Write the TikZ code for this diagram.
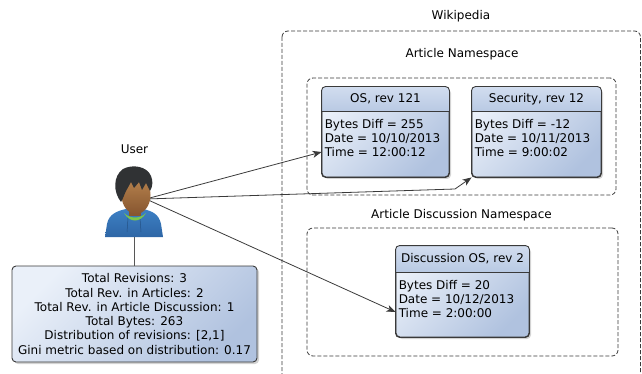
\documentclass[tikz,border=0pt]{standalone}
\usepackage{fontspec}
\setmainfont{DejaVu Sans}
\usetikzlibrary{arrows.meta,shadows,calc}
\definecolor{edge}{HTML}{3A3A3A}
\definecolor{bodyA}{HTML}{EAF0F9}
\definecolor{bodyB}{HTML}{B0C2DF}
\definecolor{hdrA}{HTML}{D2DDEF}
\definecolor{hdrB}{HTML}{B8C9E3}
\definecolor{hood}{HTML}{3D80C4}
\definecolor{hoodD}{HTML}{2E66A6}
\definecolor{skinA}{HTML}{B9854F}
\definecolor{skinB}{HTML}{875630}
\definecolor{hair}{HTML}{303234}
\definecolor{collar}{HTML}{7BC64A}
\tikzset{
  txt/.style={font=\fontsize{12}{14}\selectfont, inner sep=0pt},
  nsbox/.style={draw=edge, dashed, dash pattern=on 4pt off 2pt, line width=0.8pt, rounded corners=6pt},
  revbox/.style={draw=edge, line width=0.9pt, rounded corners=4pt, rectangle,
     top color=bodyA, bottom color=bodyB, shading angle=45,
     drop shadow={shadow xshift=2pt, shadow yshift=-2pt, opacity=0.35}},
  link/.style={draw=edge, line width=0.8pt, -{Stealth[length=9pt,width=7pt,inset=2.5pt]}},
}
\newcommand{\revhead}[3]{%
  \begin{scope}
    \clip[rounded corners=4pt] (#1.south west) rectangle (#1.north east);
    \shade[top color=hdrA, bottom color=hdrB] (#1.north west) rectangle ([yshift=-#2]#1.north east);
  \end{scope}
  \draw[edge, line width=0.8pt] ([yshift=-#2]#1.north west) -- ([yshift=-#2]#1.north east);
  \draw[edge, line width=0.9pt, rounded corners=4pt] (#1.south west) rectangle (#1.north east);
  \node[txt] (#1title) at ($(#1.north west)!0.5!(#1.north east)+(0,-#2/2)$) {#3};
}
\begin{document}
\begin{tikzpicture}[x=1pt,y=-1pt]
\useasboundingbox (0,0) rectangle (642,374);
% namespaces
\node[txt] (wikilabel) at (461,16) {Wikipedia};
\draw[nsbox] (282,31) rectangle (640.5,400);
\node[txt] (artlabel) at (462,54) {Article Namespace};
\node[nsbox, minimum width=309pt, minimum height=117pt, inner sep=0pt] (artns) at (461.5,136.5) {};
\node[txt] (disclabel) at (461.5,215) {Article Discussion Namespace};
\node[nsbox, minimum width=311pt, minimum height=128pt, inner sep=0pt] (discns) at (462.5,292) {};
% revision boxes
\node[revbox, minimum width=127pt, minimum height=90pt, inner sep=0pt] (os) at (385.5,132) {};
\revhead{os}{25pt}{OS, rev 121}
\node[txt, align=left, anchor=north west] (osbody) at ([xshift=3pt,yshift=-33pt]os.north west)
  {Bytes Diff = 255\\Date = 10/10/2013\\Time = 12:00:12};
\node[revbox, minimum width=129pt, minimum height=90pt, inner sep=0pt] (sec) at (536.5,132) {};
\revhead{sec}{25pt}{Security, rev 12}
\node[txt, align=left, anchor=north west] (secbody) at ([xshift=3pt,yshift=-33pt]sec.north west)
  {Bytes Diff = -12\\Date = 10/11/2013\\Time = 9:00:02};
\node[revbox, minimum width=133pt, minimum height=91pt, inner sep=0pt] (dis) at (462.5,291.5) {};
\revhead{dis}{27pt}{Discussion OS, rev 2}
\node[txt, align=left, anchor=north west] (disbody) at ([xshift=3pt,yshift=-35pt]dis.north west)
  {Bytes Diff = 20\\Date = 10/12/2013\\Time = 2:00:00};
% user
\node[txt] (userlabel) at (134.5,149) {User};
\node[minimum width=58pt, minimum height=70pt, inner sep=0pt] (user) at (134.5,202) {};
\coordinate (src) at (146,199);
\coordinate (bend) at (455,189);
\draw[link] (src) -- ([yshift=-20pt]os.west);
\draw[link] (src) -- (bend) -- (sec.south west);
\draw[link] (src) -- ([yshift=-20.5pt]dis.west);
% stats box
\node[revbox, minimum width=245pt, minimum height=96pt, inner sep=0pt, align=center,
      font=\fontsize{12}{14.3}\selectfont] (stats) at (134.5,314)
  {Total Revisions: 3\\Total Rev. in Articles: 2\\Total Rev. in Article Discussion: 1\\Total Bytes: 263\\Distribution of revisions: [2,1]\\Gini metric based on distribution: 0.17};
\draw[edge!85, line width=1.2pt] (user.south) -- (stats.north);
% user icon
\shade[top color=hood, bottom color=hoodD]
  (105,237) -- (107,224) .. controls (109,214) and (117,211) .. (126,209)
  -- (143,209) .. controls (152,211) and (159,214) .. (161,224) -- (163,237) -- cycle;
\draw[hoodD!80!black, line width=0.5pt] (128,218) -- (127,232) (140,218) -- (141,232);
\fill[skinB] (129,205) rectangle (141,216);
\fill[collar] (124,213) .. controls (130,219) and (140,219) .. (146,213)
  .. controls (140,223) and (130,223) .. (124,213) -- cycle;
\shade[top color=skinA, bottom color=skinB] (136,195) ellipse [x radius=14.5pt, y radius=19pt];
\fill[hair] (121,202) .. controls (113,192) and (113,176) .. (123,169)
  .. controls (132,164) and (147,166) .. (151,176)
  .. controls (153,181) and (153,186) .. (150,191)
  -- (146,183) -- (142,190) -- (139,182) -- (134,188) -- (131,182) -- (126,191)
  .. controls (124,195) and (123,199) .. (121,202) -- cycle;
\end{tikzpicture}
\end{document}
